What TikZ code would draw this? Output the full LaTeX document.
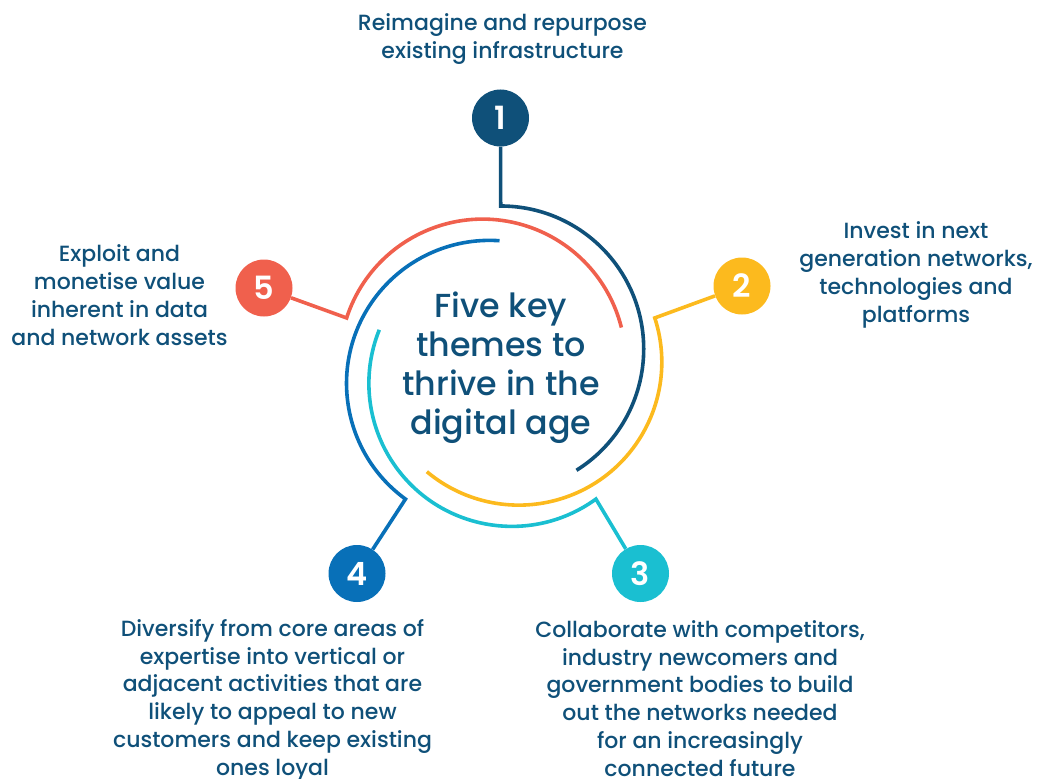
\documentclass[tikz,border=0pt]{standalone}
\usepackage{fontspec}
\setmainfont{Poppins}[UprightFont={* Medium}, BoldFont={* SemiBold}]
\usetikzlibrary{calc}
\definecolor{navy}{HTML}{0F5079}
\definecolor{sun}{HTML}{FCBA1E}
\definecolor{teal}{HTML}{1ABFD1}
\definecolor{ocean}{HTML}{0870B8}
\definecolor{coral}{HTML}{F0604D}
\begin{document}
\begin{tikzpicture}[x=1pt,y=1pt,
  num/.style={circle, fill=#1, minimum size=57pt, inner sep=0pt, text=white,
              font=\bfseries\fontsize{32}{32}\selectfont},
  theme/.style={align=center, text=navy, inner sep=0pt, anchor=base,
                font=\fontsize{22}{27.7}\selectfont},
  hub/.style={align=center, text=navy, inner sep=0pt, anchor=base,
              font=\fontsize{33.3}{39}\selectfont},
  ring/.style={line width=3.6pt, line join=miter, #1}]
\useasboundingbox (0,0) rectangle (1040,-778);
\clip (0,0) rectangle (1040,-778);

% common centre of the five offset arcs
\coordinate (O) at (500.7,-368);
% corners where each connector turns into its arc
\foreach \i/\a in {1/90,2/18,3/-54,4/-126,5/162}
  \coordinate (k\i) at ($(O)+(\a:162)$);

% numbered markers
\node[num=navy]  (n1) at (500.5,-118)  {1};
\node[num=sun]   (n2) at (742,-286)    {2};
\node[num=teal]  (n3) at (640.5,-573.5){3};
\node[num=ocean] (n4) at (357,-573.5)  {4};
\node[num=coral] (n5) at (264,-288)    {5};

% connectors and arcs
\draw[ring=navy]  (n1) -- (k1) arc[start angle=90,   delta angle=-148, radius=143];
\draw[ring=sun]   (n2) -- (k2) arc[start angle=18,   delta angle=-148, radius=143];
\draw[ring=teal]  (n3) -- (k3) arc[start angle=-54,  delta angle=-148, radius=143];
\draw[ring=ocean] (n4) -- (k4) arc[start angle=-126, delta angle=-148, radius=143];
\draw[ring=coral] (n5) -- (k5) arc[start angle=162,  delta angle=-148, radius=143];

% centre title (base anchor sits on the last line)
\node[hub] (title) at (501,-434) {Five key\\themes to\\thrive in the\\digital age};

% theme captions (base anchor sits on the last line)
\node[theme] (t1) at (502.5,-58.3) {Reimagine and repurpose\\existing infrastructure};
\node[theme] (t2) at (916,-322) {Invest in next\\generation networks,\\technologies and\\platforms};
\node[theme] (t3) at (700,-776) {Collaborate with competitors,\\industry newcomers and\\government bodies to build\\out the networks needed\\for an increasingly\\connected future};
\node[theme] (t4) at (272.5,-775) {Diversify from core areas of\\expertise into vertical or\\adjacent activities that are\\likely to appeal to new\\customers and keep existing\\ones loyal};
\node[theme] (t5) at (119.5,-345) {Exploit and\\monetise value\\inherent in data\\and network assets};
\end{tikzpicture}
\end{document}
